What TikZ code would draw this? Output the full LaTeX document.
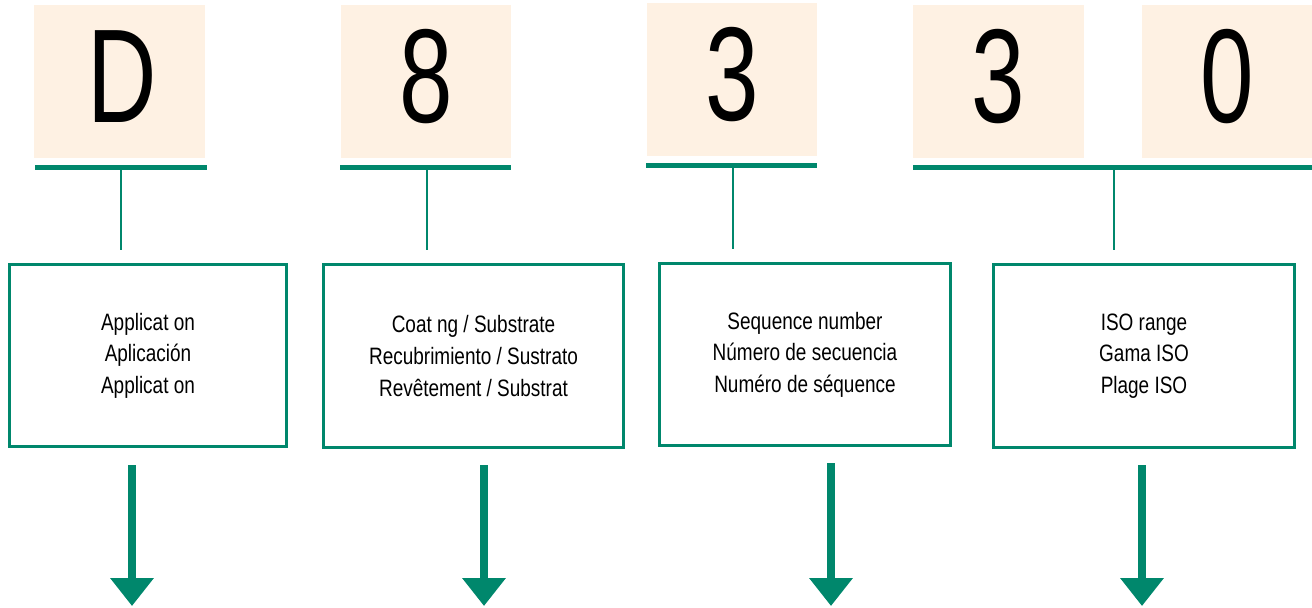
\documentclass[tikz,border=0pt]{standalone}
\usepackage{fontspec}
\setmainfont{Liberation Sans}[FakeStretch=0.8]
\newfontfamily\bigfont{Liberation Sans}[FakeStretch=0.72]
\usetikzlibrary{arrows.meta}
\definecolor{teal}{RGB}{0,135,108}
\definecolor{beige}{RGB}{254,241,227}
\tikzset{
  letterbox/.style={fill=beige, draw=none, inner sep=0pt},
  bigletter/.style={font=\bigfont\fontsize{76}{80}\selectfont, text=black, anchor=base, inner sep=0pt},
  underline/.style={draw=teal, line width=2.8pt},
  stem/.style={draw=teal, line width=1.1pt},
  infobox/.style={draw=teal, line width=1.7pt, fill=white, inner sep=0pt, align=center,
     font=\fontsize{13.5}{18}\selectfont},
  downarrow/.style={draw=teal, line width=4.5pt, -{Triangle[width=0.84cm,length=0.56cm]}},
}
\begin{document}
\begin{tikzpicture}[x=0.02cm,y=-0.02cm]
\useasboundingbox (0,0) rectangle (1312,608);
% letter boxes
\fill[beige] (34,5) rectangle (205,158);
\fill[beige] (341,5) rectangle (511,158);
\fill[beige] (647,3) rectangle (817,156);
\fill[beige] (913,5) rectangle (1084,158);
\fill[beige] (1142,5) rectangle (1312,158);
\node[bigletter] (lD) at (122,123) {D};
\node[bigletter] (l8) at (426,123) {8};
\node[bigletter] (l3) at (732,121) {3};
\node[bigletter] (l3b) at (998.5,123) {3};
\node[bigletter] (l0) at (1227,123) {0};
% underlines
\coordinate (u1a) at (35,167.5); \coordinate (u1b) at (207,167.5);
\coordinate (u2a) at (340,167.5); \coordinate (u2b) at (511,167.5);
\coordinate (u3a) at (646,165.5); \coordinate (u3b) at (817,165.5);
\coordinate (u4a) at (913,167.5); \coordinate (u4b) at (1312,167.5);
\draw[underline] (u1a) -- (u1b);
\draw[underline] (u2a) -- (u2b);
\draw[underline] (u3a) -- (u3b);
\draw[underline] (u4a) -- (u4b);
% stems
\coordinate (s1a) at (121,170); \coordinate (s1b) at (121,250);
\coordinate (s2a) at (427,170); \coordinate (s2b) at (427,250);
\coordinate (s3a) at (733,168); \coordinate (s3b) at (733,249);
\coordinate (s4a) at (1114,170); \coordinate (s4b) at (1114,250);
\draw[stem] (s1a) -- (s1b);
\draw[stem] (s2a) -- (s2b);
\draw[stem] (s3a) -- (s3b);
\draw[stem] (s4a) -- (s4b);
% info boxes
\node[infobox, minimum width=5.56cm, minimum height=3.66cm] (b1) at (148,355.5)
  {Applicat on\\Aplicación\\Applicat on};
\node[infobox, minimum width=6.02cm, minimum height=3.68cm] (b2) at (473.5,356)
  {Coat ng / Substrate\\Recubrimiento / Sustrato\\Revêtement / Substrat};
\node[infobox, minimum width=5.84cm, minimum height=3.66cm] (b3) at (805,354.5)
  {Sequence number\\Número de secuencia\\Numéro de séquence};
\node[infobox, minimum width=6.04cm, minimum height=3.68cm] (b4) at (1144,356)
  {ISO range\\Gama ISO\\Plage ISO};
% arrows
\coordinate (a1a) at (132,465); \coordinate (a1b) at (132,606);
\coordinate (a2a) at (484,465); \coordinate (a2b) at (484,606);
\coordinate (a3a) at (831,463); \coordinate (a3b) at (831,606);
\coordinate (a4a) at (1142,465); \coordinate (a4b) at (1142,606);
\draw[downarrow] (a1a) -- (a1b);
\draw[downarrow] (a2a) -- (a2b);
\draw[downarrow] (a3a) -- (a3b);
\draw[downarrow] (a4a) -- (a4b);
\end{tikzpicture}
\end{document}
